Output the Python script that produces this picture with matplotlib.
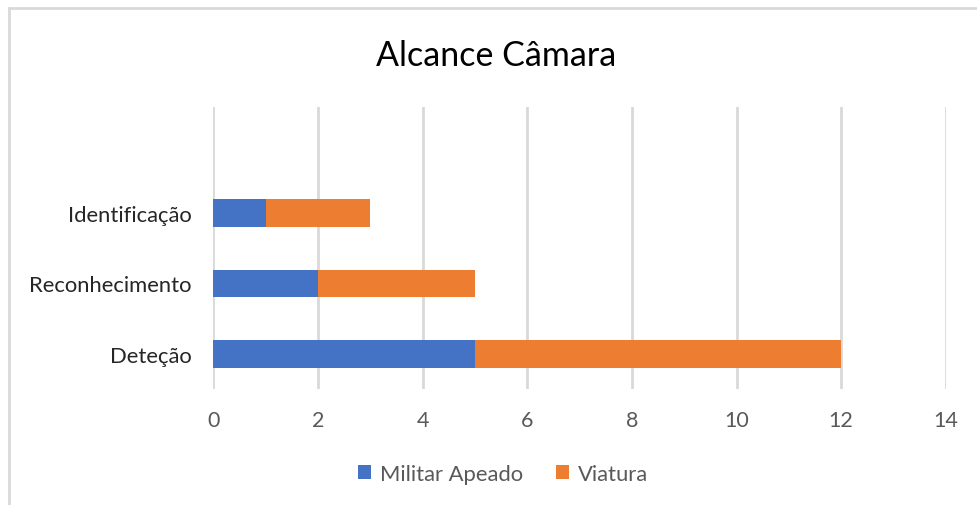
import matplotlib
matplotlib.use('Agg')
import matplotlib.pyplot as plt
from matplotlib.lines import Line2D

# data
categories = ['Deteção', 'Reconhecimento', 'Identificação']
militar_apeado = [5, 2, 1]
viatura = [7, 3, 2]
series_names = ['Militar Apeado', 'Viatura']
x_ticks = [0, 2, 4, 6, 8, 10, 12, 14]

BLUE = '#4472C4'
ORANGE = '#ED7D31'
GRID = '#D9D9D9'
TEXT = '#595959'

plt.rcParams['font.family'] = ['Lato', 'DejaVu Sans']

fig = plt.figure(figsize=(9.77, 5.06), dpi=100)
ax = fig.add_axes([0.2185, 0.229, 0.7495, 0.5576])

pos = list(range(len(categories)))
ax.barh(pos, militar_apeado, height=0.39, color=BLUE, label=series_names[0], zorder=3)
ax.barh(pos, viatura, left=militar_apeado, height=0.39, color=ORANGE,
        label=series_names[1], zorder=3)

ax.set_xlim(0, 14)
# an empty category slot sits above the bars, as in the original
ax.set_ylim(-0.5, len(categories) + 0.5)
ax.set_xticks(x_ticks)
ax.set_yticks(pos)
ax.set_yticklabels(categories, fontsize=15.8, color='#262626')
ax.tick_params(axis='x', labelsize=15.5, labelcolor=TEXT, length=0, pad=15)
ax.tick_params(axis='y', length=0, pad=16)
ax.grid(axis='x', color=GRID, linewidth=2, zorder=0)
for s in ax.spines.values():
    s.set_visible(False)

fig.suptitle('Alcance Câmara', x=0.508, y=0.92, fontsize=24.5, color='#000000')

fig.legend(loc='center', bbox_to_anchor=(0.515, 0.061), ncol=2, frameon=False,
           fontsize=15.8, labelcolor=TEXT, handlelength=0.6, handleheight=0.6,
           handletextpad=0.4, columnspacing=1.5)

# chart border (only left and top visible in the crop)
fig.add_artist(Line2D([8.5 / 977, 8.5 / 977], [0, 1 - 8.5 / 506],
                      transform=fig.transFigure, color=GRID, linewidth=2))
fig.add_artist(Line2D([8.5 / 977, 1], [1 - 8.5 / 506, 1 - 8.5 / 506],
                      transform=fig.transFigure, color=GRID, linewidth=2))

fig.savefig('out.png', dpi=100)
